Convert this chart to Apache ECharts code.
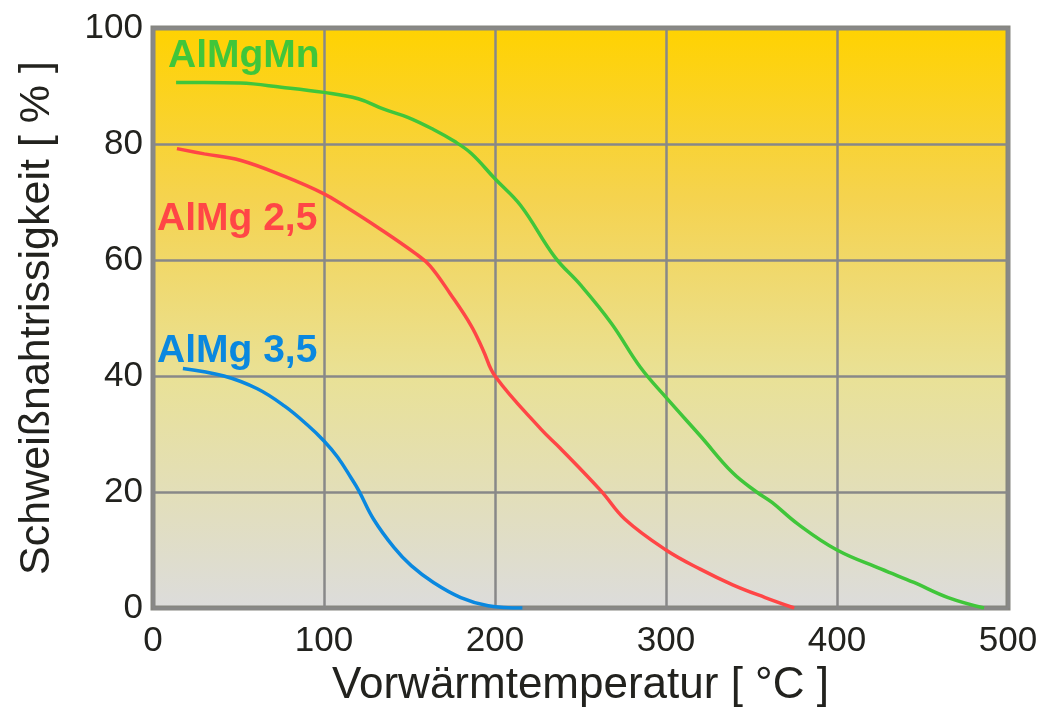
<!DOCTYPE html>
<html>
<head>
<meta charset="utf-8">
<script src="https://cdn.jsdelivr.net/npm/echarts@6/dist/echarts.min.js"></script>
<style>
html,body{margin:0;padding:0;background:#fff;}
#chart{width:1050px;height:722px;}
</style>
</head>
<body>
<div id="chart"></div>
<script>
// Tick labels / axes
var xTicks = [0, 100, 200, 300, 400, 500];
var yTicks = [0, 20, 40, 60, 80, 100];
var xName = 'Vorwärmtemperatur [ °C ]';
var yName = 'Schweißnahtrissigkeit [ % ]';

// Series names
var seriesNames = ['AlMgMn', 'AlMg 2,5', 'AlMg 3,5'];

// Series values [temperature °C, weld crack sensitivity %]
var almgmn = [[13.5,90.6],[30,90.6],[51,90.5],[75,89.8],[100,88.9],[120,87.8],[135,86.0],[149,84.6],[164,82.5],[176,80.5],[186,78.4],[200,74.0],[215,69.4],[235,60.5],[250,55.7],[268,49.1],[285,41.5],[300,36.3],[320,29.7],[339,23.3],[353,20],[362,18.2],[377,14.5],[400,10],[426,6.7],[445,4.4],[465,1.8],[486,0]];
var almg25 = [[14,79.2],[30,78.3],[51,77.2],[77,74.4],[100,71.4],[112,69.3],[133,65.3],[154,61],[162,59],[174,54.1],[186,48.7],[193,44.5],[200,40],[227,30.8],[238,27.6],[262,20.2],[276,15.3],[300,10],[320,6.7],[339,4],[358,1.8],[375,0]];
var almg35 = [[17.5,41.3],[41.5,40],[61,37.8],[77,34.8],[90.5,31.5],[100,28.8],[108,26],[115.7,22.5],[120.4,20.2],[129,15.3],[141,10.4],[151,7.3],[164,4.4],[180,1.8],[196,0.4],[216,0]];

var colors = ['#40c63a', '#ff4646', '#0a88df'];
var txt = '#22221e';
var FONT = '"Liberation Sans", Arial, sans-serif';

var chart = echarts.init(document.getElementById('chart'), null, {renderer: 'canvas'});

var option = {
  animation: false,
  grid: {
    left: 153, top: 28, right: 42, bottom: 114,
    show: true,
    borderColor: '#868680',
    borderWidth: 5,
    backgroundColor: new echarts.graphic.LinearGradient(0, 0, 0, 1, [
      {offset: 0, color: '#ffd200'},
      {offset: 0.3, color: '#f5d350'},
      {offset: 0.6, color: '#e9e196'},
      {offset: 1, color: '#dcdcdc'}
    ])
  },
  xAxis: {
    type: 'value',
    min: xTicks[0], max: xTicks[xTicks.length - 1], interval: 100,
    name: xName, nameLocation: 'middle', nameGap: 52,
    nameTextStyle: {fontSize: 44, color: txt, fontFamily: FONT},
    axisLine: {show: false}, axisTick: {show: false},
    axisLabel: {fontSize: 35, color: txt, margin: 16, fontFamily: FONT},
    splitLine: {show: true, lineStyle: {color: '#888888', width: 2.5}}
  },
  yAxis: {
    type: 'value',
    min: yTicks[0], max: yTicks[yTicks.length - 1], interval: 20,
    name: yName, nameLocation: 'middle', nameGap: 94, nameRotate: 90,
    nameTextStyle: {fontSize: 43, color: txt, fontFamily: FONT},
    axisLine: {show: false}, axisTick: {show: false},
    axisLabel: {fontSize: 35, color: txt, margin: 10, fontFamily: FONT},
    splitLine: {show: true, lineStyle: {color: '#888888', width: 2.5}}
  },
  series: [
    {name: seriesNames[0], type: 'line', data: almgmn, smooth: 0.4, showSymbol: false, lineStyle: {color: colors[0], width: 3.5}},
    {name: seriesNames[1], type: 'line', data: almg25, smooth: 0.4, showSymbol: false, lineStyle: {color: colors[1], width: 3.5}},
    {name: seriesNames[2], type: 'line', data: almg35, smooth: 0.4, showSymbol: false, lineStyle: {color: colors[2], width: 3.5}}
  ],
  graphic: [
    {type: 'text', left: 168, top: 37, style: {text: seriesNames[0], fill: colors[0], font: 'bold 39px ' + FONT}},
    {type: 'text', left: 157, top: 200, style: {text: seriesNames[1], fill: colors[1], font: 'bold 39px ' + FONT}},
    {type: 'text', left: 157, top: 332, style: {text: seriesNames[2], fill: colors[2], font: 'bold 39px ' + FONT}}
  ]
};
chart.setOption(option);
</script>
</body>
</html>
